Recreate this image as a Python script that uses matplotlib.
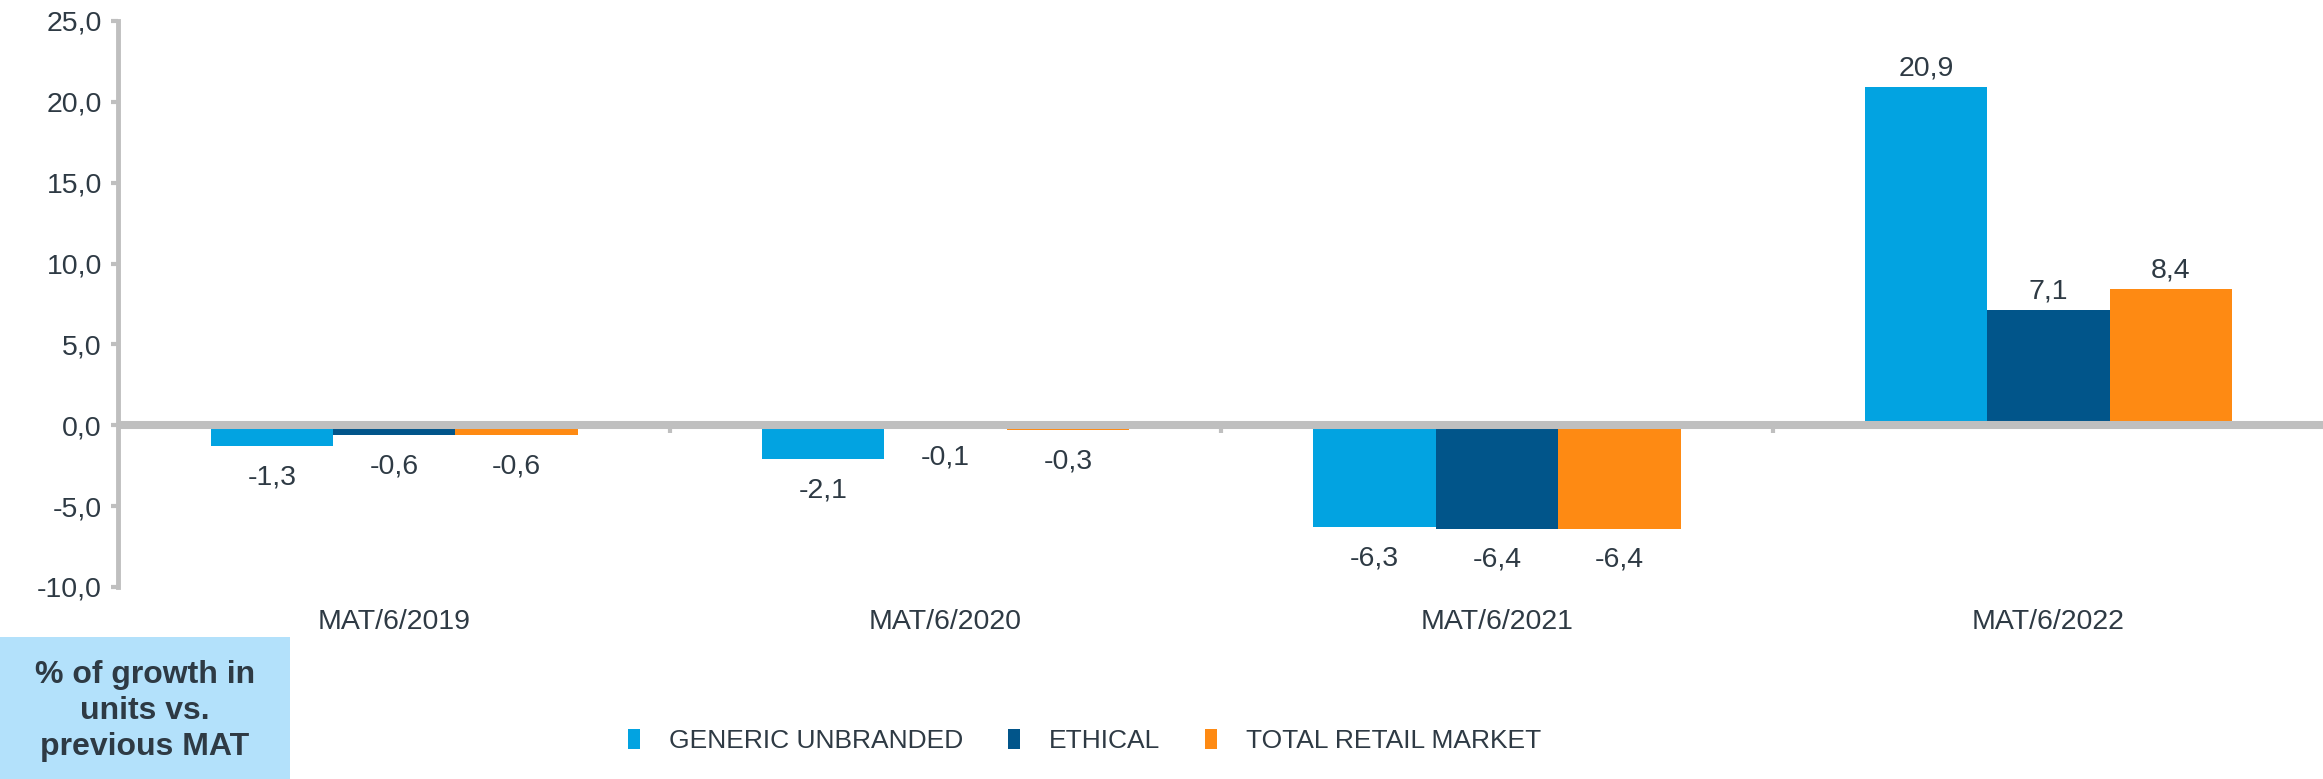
import matplotlib
matplotlib.use("Agg")
import matplotlib.pyplot as plt
from matplotlib.patches import Rectangle
import numpy as np

plt.rcParams['font.family'] = ['Liberation Sans', 'DejaVu Sans']

categories = ["MAT/6/2019", "MAT/6/2020", "MAT/6/2021", "MAT/6/2022"]
series_names = ["GENERIC UNBRANDED", "ETHICAL", "TOTAL RETAIL MARKET"]
generic = [-1.3, -2.1, -6.3, 20.9]
ethical = [-0.6, -0.1, -6.4, 7.1]
total = [-0.6, -0.3, -6.4, 8.4]
yticks = [-10, -5, 0, 5, 10, 15, 20, 25]
box_text = "% of growth in\nunits vs.\nprevious MAT"

colors = ["#02A3E1", "#01558A", "#FE8A13"]
txt_color = "#2E3A44"
grid_gray = "#BFBFBF"
fs = 20.5

fig = plt.figure(figsize=(23.23, 7.79), dpi=100)
ax = fig.add_axes([0.051, 0.2465, 0.9495, 0.7266])

x = np.arange(len(categories))
w = 0.222
for i, (vals, name, c) in enumerate(zip([generic, ethical, total], series_names, colors)):
    xs = x + (i - 1) * w
    ax.bar(xs, vals, width=w, color=c, label=name, zorder=2)
    for xi, v in zip(xs, vals):
        lab = f"{v:.1f}".replace(".", ",")
        if v >= 0:
            ax.annotate(lab, (xi, v), xytext=(0, 4), textcoords="offset points",
                        ha="center", va="bottom", fontsize=fs, color=txt_color)
        else:
            ax.annotate(lab, (xi, v), xytext=(0, -13), textcoords="offset points",
                        ha="center", va="top", fontsize=fs, color=txt_color)

ax.set_xlim(-0.5, 3.5)
ax.set_ylim(-10, 25)
ax.axhline(0, color=grid_gray, lw=5.8, zorder=3)
ax.vlines([0.5, 1.5, 2.5], -0.45, 0, color=grid_gray, lw=3, zorder=1)

for s in ["top", "right", "bottom"]:
    ax.spines[s].set_visible(False)
ax.spines["left"].set_color(grid_gray)
ax.spines["left"].set_linewidth(3.5)

ax.set_yticks(yticks)
ax.set_yticklabels([f"{t:.1f}".replace(".", ",") for t in yticks])
ax.tick_params(axis="y", length=5, width=3, color=grid_gray, pad=7,
               labelsize=fs, labelcolor=txt_color)
ax.set_xticks(x)
ax.set_xticklabels(categories)
ax.tick_params(axis="x", length=0, pad=15.5, labelsize=fs, labelcolor=txt_color)

leg = fig.legend(loc="center", bbox_to_anchor=(0.467, 0.049), ncol=3, frameon=False,
                 handlelength=0.45, handleheight=0.8, handletextpad=1.1,
                 columnspacing=1.7, fontsize=19)
for t in leg.get_texts():
    t.set_color(txt_color)

fig.patches.append(Rectangle((0, 0), 290 / 2323, 142 / 779, transform=fig.transFigure,
                             facecolor="#B3E1FB", edgecolor="none", zorder=0))
fig.text(145 / 2323, 0.087, box_text, ha="center", va="center", fontsize=23,
         fontweight="bold", color=txt_color, linespacing=1.25)

fig.savefig("out.png", dpi=100)
